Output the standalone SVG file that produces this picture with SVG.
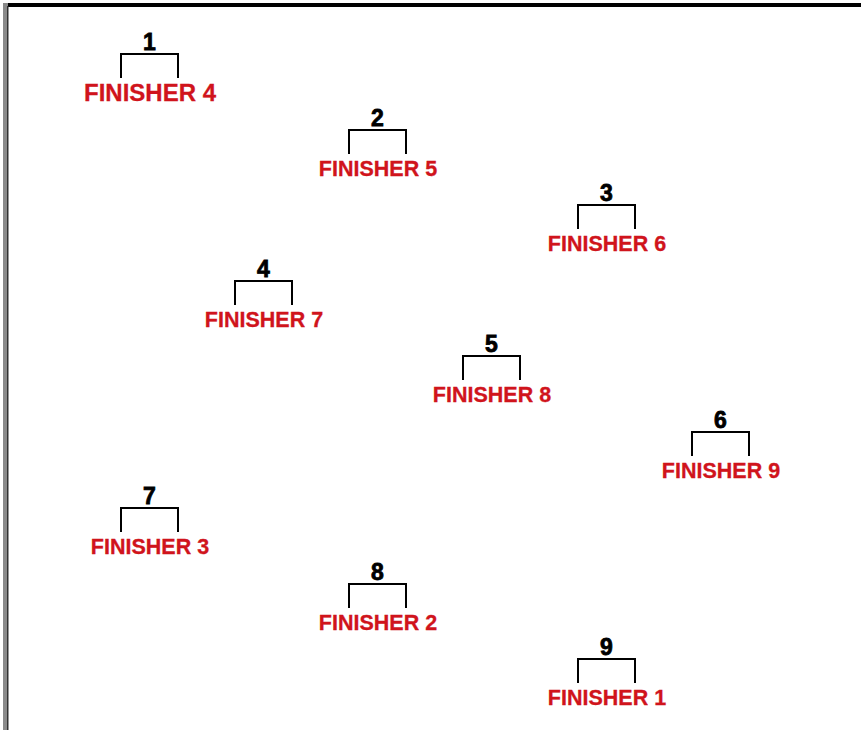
<svg xmlns="http://www.w3.org/2000/svg" width="861" height="730" viewBox="0 0 861 730">
<style>
.br{fill:none;stroke:#000;stroke-width:2}
.num{font-family:"Liberation Sans",Arial,sans-serif;font-weight:bold;font-size:23px;fill:#000;stroke:#000;stroke-width:0.8;text-anchor:middle}
.fin{font-family:"Liberation Sans",Arial,sans-serif;font-weight:bold;font-size:21.5px;fill:#d0141c;stroke:#d0141c;stroke-width:0.3;text-anchor:middle}
.big{font-size:24px}
</style>
<rect width="861" height="730" fill="#fff"/>
<rect x="3" y="3" width="858" height="4" fill="#000"/>
<rect x="3" y="3" width="5" height="727" fill="#8a8a8a"/>
<rect x="7" y="6" width="1.5" height="724" fill="#333"/>
<defs>
<path id="bk" d="M0,24 V0 H57 V24"/>
</defs>
<g id="n1" transform="translate(121,54)"><use href="#bk" class="br"/><text class="num" x="28.5" y="-4">1</text><text class="fin big" x="29" y="47">FINISHER 4</text></g>
<g id="n2" transform="translate(349,130)"><use href="#bk" class="br"/><text class="num" x="28.5" y="-4">2</text><text class="fin" x="29" y="46">FINISHER 5</text></g>
<g id="n3" transform="translate(578,205)"><use href="#bk" class="br"/><text class="num" x="28.5" y="-4">3</text><text class="fin" x="29" y="46">FINISHER 6</text></g>
<g id="n4" transform="translate(235,281)"><use href="#bk" class="br"/><text class="num" x="28.5" y="-4">4</text><text class="fin" x="29" y="46">FINISHER 7</text></g>
<g id="n5" transform="translate(463,356)"><use href="#bk" class="br"/><text class="num" x="28.5" y="-4">5</text><text class="fin" x="29" y="46">FINISHER 8</text></g>
<g id="n6" transform="translate(692,432)"><use href="#bk" class="br"/><text class="num" x="28.5" y="-4">6</text><text class="fin" x="29" y="46">FINISHER 9</text></g>
<g id="n7" transform="translate(121,508)"><use href="#bk" class="br"/><text class="num" x="28.5" y="-4">7</text><text class="fin" x="29" y="46">FINISHER 3</text></g>
<g id="n8" transform="translate(349,584)"><use href="#bk" class="br"/><text class="num" x="28.5" y="-4">8</text><text class="fin" x="29" y="46">FINISHER 2</text></g>
<g id="n9" transform="translate(578,659)"><use href="#bk" class="br"/><text class="num" x="28.5" y="-4">9</text><text class="fin" x="29" y="46">FINISHER 1</text></g>
<g id="connectors"/>
</svg>
